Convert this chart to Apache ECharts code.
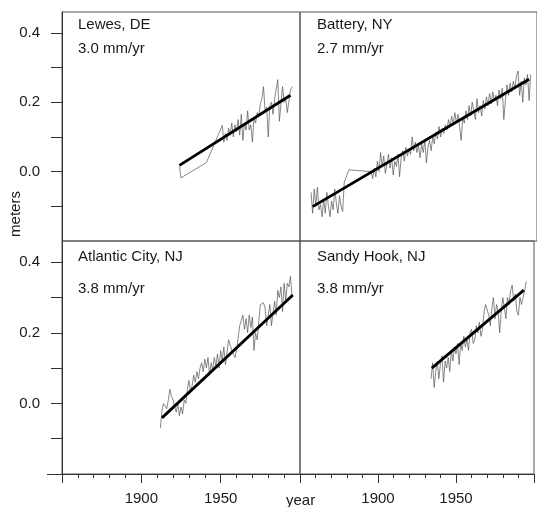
<!DOCTYPE html>
<html>
<head>
<meta charset="utf-8">
<script src="https://cdn.jsdelivr.net/npm/echarts@6/dist/echarts.min.js"></script>
<style>
  html, body { margin: 0; padding: 0; background: #fff; }
  #chart { width: 537px; height: 507px; }
</style>
</head>
<body>
<div id="chart"></div>
<script>
const range = (a, b) => Array.from({ length: b - a + 1 }, (_, i) => a + i);

// tick labels that are printed (other ticks stay unlabelled)
const yearLabels = [1900, 1950];
const meterLabels = [0.0, 0.2, 0.4];
const meterTicksTop = [-0.1, 0.0, 0.1, 0.2, 0.3, 0.4];
const meterTicksBottom = [-0.2, -0.1, 0.0, 0.1, 0.2, 0.3, 0.4];

const stationNames = ["Lewes, DE", "Battery, NY", "Atlantic City, NJ", "Sandy Hook, NJ"];
const stationRates = ["3.0 mm/yr", "2.7 mm/yr", "3.8 mm/yr", "3.8 mm/yr"];

// annual mean sea level (m)
const lewesYears = [1924, 1925, 1941, ...range(1951, 1995)];
const lewesLevel = [
  0.015, -0.018, 0.026,
  0.133, 0.085, 0.11, 0.09, 0.125, 0.105, 0.14, 0.10, 0.135, 0.115,
  0.15, 0.105, 0.165, 0.09, 0.14, 0.12, 0.175, 0.12, 0.135, 0.085,
  0.155, 0.14, 0.17, 0.16, 0.195, 0.21, 0.245, 0.175, 0.185, 0.10,
  0.19, 0.20, 0.165, 0.21, 0.205, 0.265, 0.145, 0.15, 0.245, 0.20,
  0.21, 0.17, 0.17, 0.235, 0.245,
];

const batteryYears = [...range(1857, 1878), 1881, ...range(1895, 1996)];
const batteryLevel = [
  -0.06, -0.12, -0.05, -0.10, -0.045, -0.11, -0.095, -0.13, -0.08, -0.12,
  -0.06, -0.10, -0.13, -0.085, -0.11, -0.05, -0.09, -0.12, -0.07, -0.10,
  -0.115, -0.03,
  0.005,
  0.00, -0.02, 0.01, -0.015, 0.03, 0.00, 0.055, 0.015, 0.045, -0.005,
  0.02, 0.05, 0.01, 0.04, -0.01, 0.03, 0.015, 0.05, -0.015, 0.04,
  0.06, 0.03, 0.07, 0.045, 0.065, 0.05, 0.10, 0.06, 0.085, 0.055,
  0.075, 0.04, 0.08, 0.055, 0.09, 0.025, 0.07, 0.09, 0.06, 0.10,
  0.08, 0.115, 0.095, 0.13, 0.10, 0.125, 0.11, 0.135, 0.12, 0.15,
  0.13, 0.16, 0.135, 0.17, 0.14, 0.165, 0.13, 0.09, 0.155, 0.14,
  0.175, 0.15, 0.19, 0.16, 0.20, 0.175, 0.15, 0.21, 0.17, 0.19,
  0.16, 0.205, 0.18, 0.215, 0.19, 0.225, 0.195, 0.23, 0.205, 0.22,
  0.19, 0.235, 0.21, 0.24, 0.15, 0.205, 0.25, 0.22, 0.255, 0.23,
  0.26, 0.24, 0.275, 0.29, 0.22, 0.26, 0.20, 0.27, 0.25, 0.28,
  0.205, 0.28,
];

const atlanticYears = range(1912, 1995);
const atlanticLevel = [
  -0.07, -0.02, 0.00, 0.005, -0.015, 0.01, 0.04, 0.02, 0.01, -0.01,
  -0.025, 0.0, -0.035, -0.01, -0.03, 0.01, 0.0, 0.04, 0.065, 0.035,
  0.05, 0.08, 0.06, 0.09, 0.07, 0.10, 0.115, 0.09, 0.125, 0.10,
  0.13, 0.08, 0.115, 0.095, 0.13, 0.105, 0.14, 0.10, 0.15, 0.12,
  0.16, 0.11, 0.145, 0.18, 0.165, 0.15, 0.14, 0.13, 0.15, 0.185,
  0.22, 0.235, 0.25, 0.21, 0.24, 0.20, 0.25, 0.215, 0.245, 0.15,
  0.20, 0.18, 0.185, 0.28, 0.275, 0.285, 0.27, 0.22, 0.225, 0.28,
  0.22, 0.22, 0.29, 0.25, 0.32, 0.30, 0.33, 0.26, 0.34, 0.29,
  0.34, 0.33, 0.36, 0.30,
];

const sandyYears = range(1934, 1995);
const sandyLevel = [
  0.07, 0.115, 0.045, 0.09, 0.12, 0.07, 0.11, 0.135, 0.06, 0.12,
  0.10, 0.13, 0.09, 0.15, 0.12, 0.16, 0.14, 0.17, 0.11, 0.17,
  0.15, 0.19, 0.16, 0.18, 0.15, 0.20, 0.21, 0.17, 0.18, 0.22,
  0.20, 0.23, 0.19, 0.21, 0.26, 0.28, 0.28, 0.25, 0.22, 0.27,
  0.30, 0.24, 0.28, 0.26, 0.20, 0.26, 0.30, 0.27, 0.24, 0.30,
  0.28, 0.32, 0.335, 0.29, 0.31, 0.26, 0.25, 0.30, 0.28, 0.30,
  0.32, 0.345,
];

// fitted linear trends, end points [year, m]
const lewesTrend = [[1924, 0.018], [1994, 0.22]];
const batteryTrend = [[1858, -0.101], [1995, 0.266]];
const atlanticTrend = [[1913, -0.041], [1995.5, 0.307]];
const sandyTrend = [[1934.5, 0.1], [1993.5, 0.321]];

const pairs = (xs, ys) => xs.map((x, i) => [x, ys[i]]);
const raw = [
  pairs(lewesYears, lewesLevel),
  pairs(batteryYears, batteryLevel),
  pairs(atlanticYears, atlanticLevel),
  pairs(sandyYears, sandyLevel),
];
const trends = [lewesTrend, batteryTrend, atlanticTrend, sandyTrend];

const FONT = "Liberation Sans, Arial, sans-serif";
const FRAME = "#555";
const AXIS = "#333";
const TEXT = "#1a1a1a";

const grids = [
  { left: 62, top: 12, width: 238, height: 229 },
  { left: 300, top: 12, width: 238, height: 229 },
  { left: 62, top: 241, width: 238, height: 233 },
  { left: 300, top: 241, width: 238, height: 233 },
].map((g) => ({ ...g, show: true, borderColor: FRAME, borderWidth: 1, backgroundColor: "transparent" }));

const xAxis = grids.map((_, i) => ({
  type: "value",
  gridIndex: i,
  min: 1850,
  max: 2000,
  interval: 50,
  show: i >= 2,
  axisLine: { show: true, onZero: false, lineStyle: { color: AXIS, width: 1 } },
  axisTick: { show: true, inside: false, length: 9, lineStyle: { color: AXIS } },
  minorTick: { show: true, splitNumber: 5, length: 4, lineStyle: { color: AXIS } },
  splitLine: { show: false },
  axisLabel: {
    margin: 17,
    color: TEXT,
    fontFamily: FONT,
    fontSize: 15,
    formatter: (v) => (yearLabels.includes(v) ? String(v) : ""),
  },
}));

const yAxis = grids.map((_, i) => ({
  type: "value",
  gridIndex: i,
  min: -0.2,
  max: 0.46,
  show: i % 2 === 0,
  axisLine: { show: true, onZero: false, lineStyle: { color: AXIS, width: 1 } },
  axisTick: {
    show: true,
    inside: false,
    length: 11,
    customValues: i < 2 ? meterTicksTop : meterTicksBottom,
    lineStyle: { color: AXIS },
  },
  splitLine: { show: false },
  axisLabel: {
    margin: 22,
    color: TEXT,
    fontFamily: FONT,
    fontSize: 15,
    customValues: meterLabels,
    formatter: (v) => v.toFixed(1),
  },
}));

const series = [];
raw.forEach((data, i) => {
  series.push({
    type: "line",
    xAxisIndex: i,
    yAxisIndex: i,
    data,
    showSymbol: false,
    lineStyle: { width: 0.7, color: "#555" },
    z: 2,
  });
  series.push({
    type: "line",
    xAxisIndex: i,
    yAxisIndex: i,
    data: trends[i],
    showSymbol: false,
    lineStyle: { width: 2.8, color: "#000" },
    z: 3,
  });
});

const labelPos = [
  { x: 78, y: [25, 49] },
  { x: 317, y: [25, 49] },
  { x: 78, y: [257, 289] },
  { x: 317, y: [257, 289] },
];
const textStyle = (text) => ({ text, fill: TEXT, font: `15px ${FONT}`, textVerticalAlign: "middle" });

const graphic = [];
stationNames.forEach((name, i) => {
  const p = labelPos[i];
  graphic.push({ type: "text", x: p.x, y: p.y[0], style: textStyle(name) });
  graphic.push({ type: "text", x: p.x, y: p.y[1], style: textStyle(stationRates[i]) });
});
graphic.push({ type: "text", x: 286, y: 501, style: textStyle("year") });
graphic.push({
  type: "text",
  x: 16,
  y: 214,
  rotation: Math.PI / 2,
  style: { ...textStyle("meters"), textAlign: "center" },
});
// the year axis line runs a little past the left frame
graphic.push({
  type: "line",
  shape: { x1: 47, y1: 474.5, x2: 62, y2: 474.5 },
  style: { stroke: AXIS, lineWidth: 1 },
});

const chart = echarts.init(document.getElementById("chart"), null, { renderer: "canvas" });
chart.setOption({
  animation: false,
  backgroundColor: "#fff",
  grid: grids,
  xAxis,
  yAxis,
  series,
  graphic,
});
</script>
</body>
</html>
